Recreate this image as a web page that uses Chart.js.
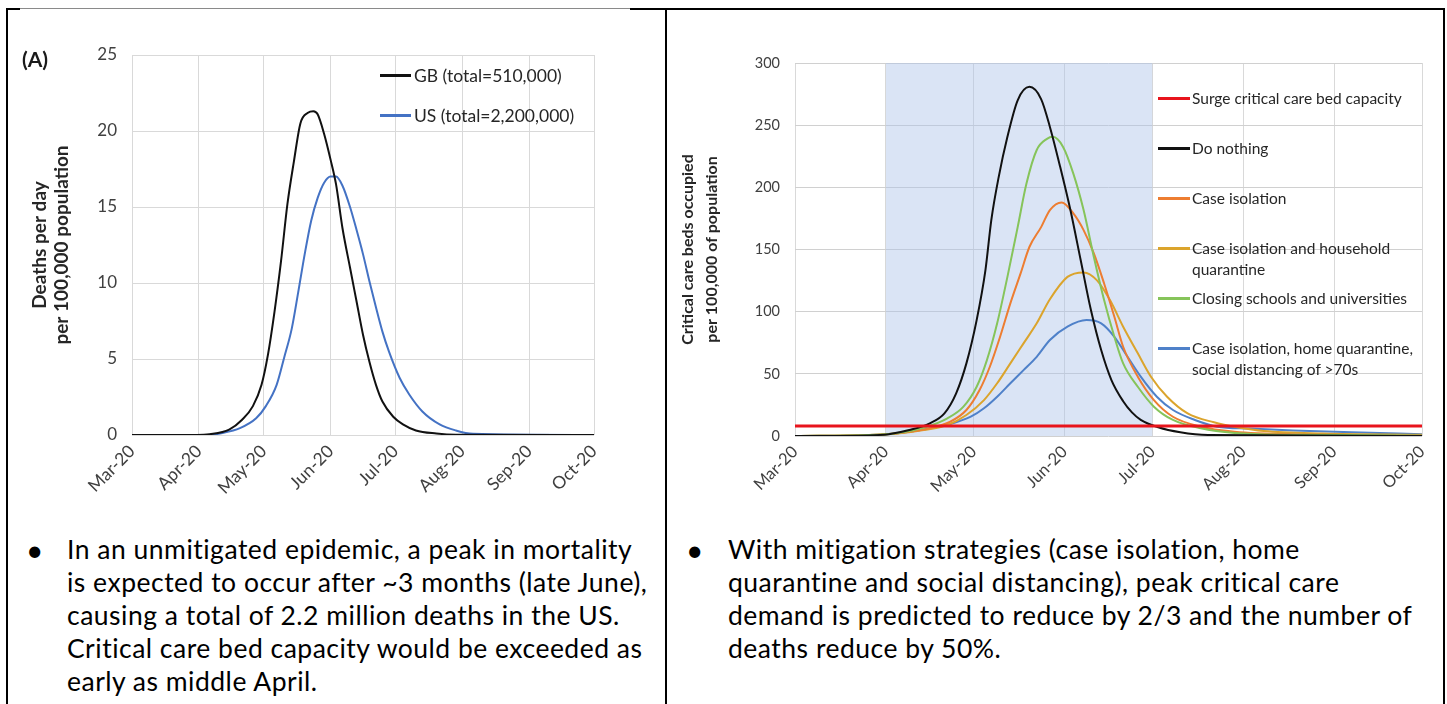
<!DOCTYPE html>
<html lang="en">
<head>
  <meta charset="UTF-8">
  <title>Deaths and critical care projections</title>
  <script src="https://cdn.jsdelivr.net/npm/chart.js"></script>
  <style>
    body {
      margin: 0;
      width: 1447px;
      height: 704px;
      position: relative;
      overflow: hidden;
      background: #fff;
      font-family: Lato, "Open Sans", sans-serif;
      color: #000;
    }
    .abs { position: absolute; }
    .rule { position: absolute; background: #000; z-index: 5; }
    .legend { position: absolute; font-size: 17.5px; color: #262626; white-space: nowrap; }
    .legend .row { position: absolute; left: 0; display: flex; align-items: center; }
    .legend .swatch { display: inline-block; width: 31px; height: 3px; margin-right: 3px; }
    .legend2 { position: absolute; font-size: 15.5px; color: #262626; white-space: nowrap; line-height: 21px; }
    .legend2 .row { position: absolute; left: 0; }
    .legend2 .swatch { position: absolute; left: 0; top: 9px; width: 32px; height: 3px; }
    .legend2 .txt { position: absolute; left: 34px; top: 0; }
    .note { position: absolute; font-size: 26.5px; letter-spacing: 0.5px; line-height: 33px; white-space: nowrap; color: #000; }
    .bullet { position: absolute; font-size: 30px; line-height: 33px; }
  </style>
</head>
<body>
  <!-- table borders -->
  <div class="rule" style="left:6px; top:8px; width:14px; height:2px;"></div>
  <div class="rule" style="left:20px; top:8px; width:610px; height:1px; background:#8a8a8a;"></div>
  <div class="rule" style="left:630px; top:8px; width:815px; height:2px;"></div>
  <div class="rule" style="left:6px; top:8px; width:2px; height:696px;"></div>
  <div class="rule" style="left:665px; top:8px; width:2px; height:696px;"></div>
  <div class="rule" style="left:1443px; top:8px; width:2px; height:696px;"></div>

  <div class="abs" style="left:0; top:0; width:640px; height:520px;">
    <canvas id="deathsChart"></canvas>
  </div>
  <div class="abs" style="left:670px; top:0; width:777px; height:520px;">
    <canvas id="icuChart"></canvas>
  </div>

  <div class="abs" style="left:22px; top:46px; font-size:21px; font-weight:bold; color:#1a1a1a;">(A)</div>

  <div class="legend" style="left:380px; top:65px;">
    <div class="row" style="top:0;"><span class="swatch" style="background:#111;"></span>GB (total=510,000)</div>
    <div class="row" style="top:40px;"><span class="swatch" style="background:#4472c4;"></span>US (total=2,200,000)</div>
  </div>

  <div class="legend2" style="left:1158px; top:0;">
    <div class="row" style="top:88px;"><span class="swatch" style="background:#e8141c;"></span><span class="txt">Surge critical care bed capacity</span></div>
    <div class="row" style="top:138px;"><span class="swatch" style="background:#111;"></span><span class="txt">Do nothing</span></div>
    <div class="row" style="top:188px;"><span class="swatch" style="background:#ed7d31;"></span><span class="txt">Case isolation</span></div>
    <div class="row" style="top:238px;"><span class="swatch" style="background:#dba42c;"></span><span class="txt">Case isolation and household<br>quarantine</span></div>
    <div class="row" style="top:288px;"><span class="swatch" style="background:#86c45a;"></span><span class="txt">Closing schools and universities</span></div>
    <div class="row" style="top:338px;"><span class="swatch" style="background:#4f81c9;"></span><span class="txt">Case isolation, home quarantine,<br>social distancing of &gt;70s</span></div>
  </div>

  <div class="bullet" style="left:26px; top:533px;">&#8226;</div>
  <div class="note" style="left:67px; top:533px;">In an unmitigated epidemic, a peak in mortality<br>is expected to occur after ~3 months (late June),<br>causing a total of 2.2 million deaths in the US.<br>Critical care bed capacity would be exceeded as<br>early as middle April.</div>

  <div class="bullet" style="left:686px; top:533px;">&#8226;</div>
  <div class="note" style="left:728px; top:533px;">With mitigation strategies (case isolation, home<br>quarantine and social distancing), peak critical care<br>demand is predicted to reduce by 2/3 and the number of<br>deaths reduce by 50%.</div>

  <script>
    // x positions are days since 1 March 2020
    var monthDays = [0, 31, 61, 92, 122, 153, 184, 214];
    var monthLabels = ['Mar-20', 'Apr-20', 'May-20', 'Jun-20', 'Jul-20', 'Aug-20', 'Sep-20', 'Oct-20'];

    // (A) deaths per day per 100,000
    var gbDays = [0, 30, 36, 45, 51, 56, 60, 63, 66, 69, 72, 75, 78, 81.5, 84, 86, 89, 92, 94.5, 97.5, 101, 104, 107, 110, 113, 116, 121, 125.5, 131.5, 141, 150, 214];
    var gbVals = [0, 0, 0.05, 0.35, 1.0, 1.9, 3.3, 5.3, 8.1, 11.4, 15.2, 18.0, 20.5, 21.2, 21.3, 21.1, 19.8, 18.1, 16.5, 13.6, 11.0, 8.8, 6.6, 4.8, 3.3, 2.2, 1.2, 0.7, 0.3, 0.1, 0.02, 0];
    var usDays = [0, 35, 42, 50, 57.5, 62, 67, 70.5, 74, 77, 80, 83, 86, 89, 92, 94.5, 97.5, 101, 104, 107, 110, 113, 116, 119, 124, 128.5, 134.5, 142.5, 150, 158, 214];
    var usVals = [0, 0, 0.13, 0.45, 1.1, 1.9, 3.3, 5.1, 7.0, 9.4, 11.9, 14.1, 15.6, 16.6, 17.0, 17.0, 16.4, 15.0, 13.5, 11.9, 10.1, 8.4, 6.8, 5.5, 3.75, 2.65, 1.55, 0.7, 0.3, 0.08, 0];

    // critical care beds occupied per 100,000
    var surgeDays = [0, 214];
    var surgeVals = [8, 8];
    var nothingDays = [0, 25, 32, 39, 46, 51, 55, 58.5, 62, 65, 67, 69.5, 72.5, 76, 80, 84, 87, 90.5, 94, 97.5, 101, 104.5, 108, 112, 115, 118, 124, 131.5, 141, 214];
    var nothingVals = [0, 0.5, 1.5, 4.8, 10.2, 18.2, 34.3, 58.4, 93.2, 133.4, 173.6, 208, 240.6, 270, 280.8, 271, 248.6, 216.5, 181.7, 141.5, 101.3, 69.1, 45, 28, 19, 13, 7, 3, 0.8, 0];
    var isolationDays = [0, 25, 35, 46, 53, 58.5, 63, 66.5, 70, 73.5, 77, 80, 84, 87, 91, 95, 98.5, 102, 105.5, 109, 112, 117, 122.5, 129, 138.5, 150, 170, 214];
    var isolationVals = [0, 0.8, 2.3, 6.2, 11.5, 20.9, 37, 55.7, 79.8, 106.7, 130.8, 152, 168, 181.7, 187.9, 179, 165.6, 146.9, 122.7, 95.9, 71.8, 47.7, 28.9, 15.5, 7.5, 3.5, 1.5, 0.8];
    var householdDays = [0, 25, 35, 44, 52, 58.5, 64.5, 69, 73.5, 78, 82.5, 87, 93, 98.5, 103, 107.5, 112, 117, 121.5, 127, 134, 143, 151, 160, 180, 214];
    var householdVals = [0, 0.8, 2, 4.8, 8.8, 16.9, 28.9, 42.4, 58.4, 74.5, 90.6, 110, 128, 131.6, 125.4, 109.3, 87.9, 66.5, 47.7, 31.6, 18.2, 11, 7, 4, 2, 1];
    var schoolsDays = [0, 25, 35, 45, 52, 57.5, 62, 65.5, 69, 72.5, 76, 79, 82.5, 86, 88, 91.5, 95, 98.5, 102, 105.5, 109, 112, 117, 122.5, 129, 138.5, 150, 170, 214];
    var schoolsVals = [0, 0.8, 2.5, 7.5, 14.2, 23.6, 39.6, 61, 90.6, 128, 168, 203, 230, 239, 240.6, 232.5, 211, 181.7, 144, 109.3, 79.8, 58.4, 39.6, 23.6, 12.9, 6.2, 2.4, 1, 0.5];
    var distancingDays = [0, 25.5, 35, 45, 53, 60, 64.5, 69, 73.5, 78, 82.5, 87, 93, 99.5, 104.5, 109, 113.5, 118, 123.5, 129, 136.5, 144, 155, 170, 190, 214];
    var distancingVals = [0, 0.8, 2.2, 5.6, 9.6, 15.5, 22.3, 31.6, 42.4, 53, 63.7, 77.2, 87.9, 93.2, 90.6, 79.8, 63.7, 47.7, 31.6, 20.9, 12.9, 7.5, 6, 4.5, 3, 1.5];
    var shadeDays = [31, 122];
    var shadeVals = [300, 300];

    function pts(days, vals) {
      return days.map(function (d, i) { return { x: d, y: vals[i] }; });
    }

    function line(data, color, width) {
      return {
        data: data,
        borderColor: color,
        borderWidth: width,
        pointRadius: 0,
        fill: false,
        cubicInterpolationMode: 'monotone'
      };
    }

    function monthAxis(fontSize, height) {
      return {
        type: 'linear',
        min: 0,
        max: 214,
        afterBuildTicks: function (s) { s.ticks = monthDays.map(function (v) { return { value: v }; }); },
        afterFit: function (s) { s.height = height; },
        ticks: {
          autoSkip: false,
          minRotation: 45,
          maxRotation: 45,
          padding: 6,
          color: '#404040',
          font: { family: 'Lato', size: fontSize },
          callback: function (v, i) { return monthLabels[i]; }
        },
        grid: { color: '#d9d9d9', drawTicks: false },
        border: { display: false }
      };
    }

    Chart.defaults.font.family = 'Lato';

    new Chart(document.getElementById('deathsChart'), {
      type: 'line',
      data: {
        datasets: [
          line(pts(gbDays, gbVals), '#111111', 2),
          line(pts(usDays, usVals), '#4472c4', 2)
        ]
      },
      options: {
        responsive: true,
        maintainAspectRatio: false,
        animation: false,
        layout: { padding: { left: 0, right: 46, top: 55, bottom: 0 } },
        plugins: { legend: { display: false }, tooltip: { enabled: false } },
        scales: {
          x: monthAxis(17.5, 85),
          y: {
            min: 0,
            max: 25,
            afterFit: function (s) { s.width = 132; },
            ticks: { stepSize: 5, padding: 15, color: '#404040', font: { size: 17 } },
            grid: { color: '#d9d9d9', drawTicks: false },
            border: { display: false },
            title: {
              display: true,
              text: ['Deaths per day', 'per 100,000 population'],
              color: '#262626',
              font: { size: 19, weight: 'bold', lineHeight: 1.16 },
              padding: { top: 29, bottom: 0 }
            }
          }
        }
      }
    });

    new Chart(document.getElementById('icuChart'), {
      type: 'line',
      data: {
        datasets: [
          line(pts(surgeDays, surgeVals), '#e8141c', 3),
          line(pts(nothingDays, nothingVals), '#111111', 2),
          line(pts(schoolsDays, schoolsVals), '#86c45a', 2),
          line(pts(isolationDays, isolationVals), '#ed7d31', 2),
          line(pts(householdDays, householdVals), '#dba42c', 2),
          line(pts(distancingDays, distancingVals), '#4f81c9', 2),
          {
            data: pts(shadeDays, shadeVals),
            borderWidth: 0,
            pointRadius: 0,
            fill: 'origin',
            backgroundColor: 'rgba(172,196,232,0.45)',
            order: 10
          }
        ]
      },
      options: {
        responsive: true,
        maintainAspectRatio: false,
        animation: false,
        layout: { padding: { left: 0, right: 25, top: 63, bottom: 0 } },
        plugins: { legend: { display: false }, tooltip: { enabled: false } },
        scales: {
          x: monthAxis(16.5, 84),
          y: {
            min: 0,
            max: 300,
            afterFit: function (s) { s.width = 125; },
            ticks: { stepSize: 50, padding: 15, color: '#404040', font: { size: 14.5 } },
            grid: { color: '#d0d0d0', drawTicks: false },
            border: { display: false },
            title: {
              display: true,
              text: ['Critical care beds occupied', 'per 100,000 of population'],
              color: '#262626',
              font: { size: 16, weight: 'bold', lineHeight: 1.5 },
              padding: { top: 6, bottom: 0 }
            }
          }
        }
      }
    });
  </script>
</body>
</html>
